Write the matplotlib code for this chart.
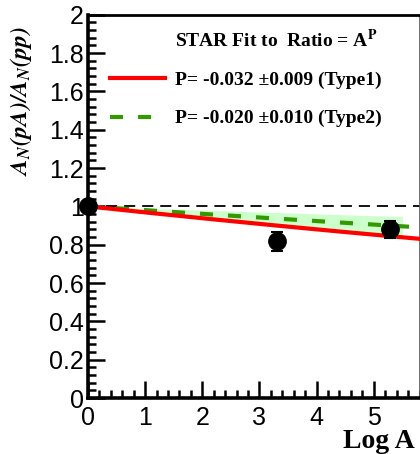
import numpy as np
import matplotlib
matplotlib.use("Agg")
import matplotlib.pyplot as plt
from matplotlib.lines import Line2D
from matplotlib.ticker import MultipleLocator, FixedLocator, FixedFormatter

plt.rcParams['mathtext.fontset'] = 'stix'
plt.rcParams['lines.scale_dashes'] = False

# data
logA = [0.0, 3.30, 5.28]
ratio = [1.0, 0.817, 0.880]
ratio_err = [0.015, 0.05, 0.043]
P1, P1_err = -0.032, 0.009
P2, P2_err = -0.020, 0.010
xtick_vals = [0, 1, 2, 3, 4, 5]
ytick_vals = [0, 0.2, 0.4, 0.6, 0.8, 1.0, 1.2, 1.4, 1.6, 1.8, 2.0]
ytick_labels = ['0', '0.2', '0.4', '0.6', '0.8', '1', '1.2', '1.4', '1.6', '1.8', '2']
band_xmax = 5.5
xmax = 5.8

fig = plt.figure(figsize=(4.2, 4.54), dpi=100)
ax = fig.add_axes([88/420, (454-398)/454, (419.5-88)/420, (398-14.7)/454])
ax.set_xlim(0, xmax)
ax.set_ylim(0, 2)

xx = np.linspace(0, xmax, 200)
xb = np.linspace(0, band_xmax, 200)
# band for type2
ax.fill_between(xb, np.exp((P2 + P2_err) * xb), np.exp((P2 - P2_err) * xb),
                color='#ccffcc', lw=0, zorder=1)
# reference line at 1
ax.plot([0, xmax], [1, 1], color='black', lw=1.3, dashes=(8, 5), zorder=2)
# fits
ax.plot(xx, np.exp(P2 * xx), color='#339900', lw=3, dashes=(9.4, 10.8), zorder=3)
ax.plot(xx, np.exp(P1 * xx), color='red', lw=3, zorder=4)
# data
ax.errorbar(logA, ratio, yerr=ratio_err, fmt='o', color='black', ms=12.5,
            capsize=4, elinewidth=1.5, capthick=1.5, zorder=6, clip_on=False)

ax.xaxis.set_major_locator(FixedLocator(xtick_vals))
ax.xaxis.set_minor_locator(MultipleLocator(0.2))
ax.yaxis.set_major_locator(FixedLocator(ytick_vals))
ax.yaxis.set_major_formatter(FixedFormatter(ytick_labels))
ax.yaxis.set_minor_locator(MultipleLocator(0.04))
ax.tick_params(which='both', direction='in', top=False, right=False,
               labelsize=18, width=1.8)
ax.tick_params(which='major', length=12)
ax.tick_params(which='minor', length=6)
ax.tick_params(axis='x', pad=6)
ax.tick_params(axis='y', pad=3)
for lab in ax.get_xticklabels() + ax.get_yticklabels():
    lab.set_fontfamily('Liberation Sans')
for s in ['left', 'bottom']:
    ax.spines[s].set_linewidth(2.6)
ax.spines['top'].set_linewidth(2)
ax.spines['right'].set_linewidth(1.2)
ax.spines['right'].set_color('#555555')

# legend
fig.text(175/420, (454-46.7)/454, r'STAR Fit to  Ratio = A$^{\mathbf{P}}$',
         fontsize=14, fontweight='bold', family='Liberation Serif', va='baseline')
fig.add_artist(Line2D([110/420, 165/420], [(454-78)/454]*2, color='red', lw=3))
fig.text(175/420, (454-85)/454, 'P= -0.032 \u00b10.009 (Type1)',
         fontsize=14, fontweight='bold', family='Liberation Serif', va='baseline')
fig.add_artist(Line2D([110/420, 165/420], [(454-117)/454]*2, color='#339900', lw=3,
                      dashes=(9.4, 10.8)))
fig.text(175/420, (454-123)/454, 'P= -0.020 \u00b10.010 (Type2)',
         fontsize=14, fontweight='bold', family='Liberation Serif', va='baseline')

fig.text(415/420, (454-448)/454, 'Log A', fontsize=20, fontweight='bold',
         family='Liberation Serif', ha='right', va='baseline')
fig.text(21/420, (454-101)/454, r'$\mathbfit{A_N(pA)/A_N(pp)}$', fontsize=17,
         rotation=90, ha='center', va='center')

fig.savefig('out.png', dpi=100)
